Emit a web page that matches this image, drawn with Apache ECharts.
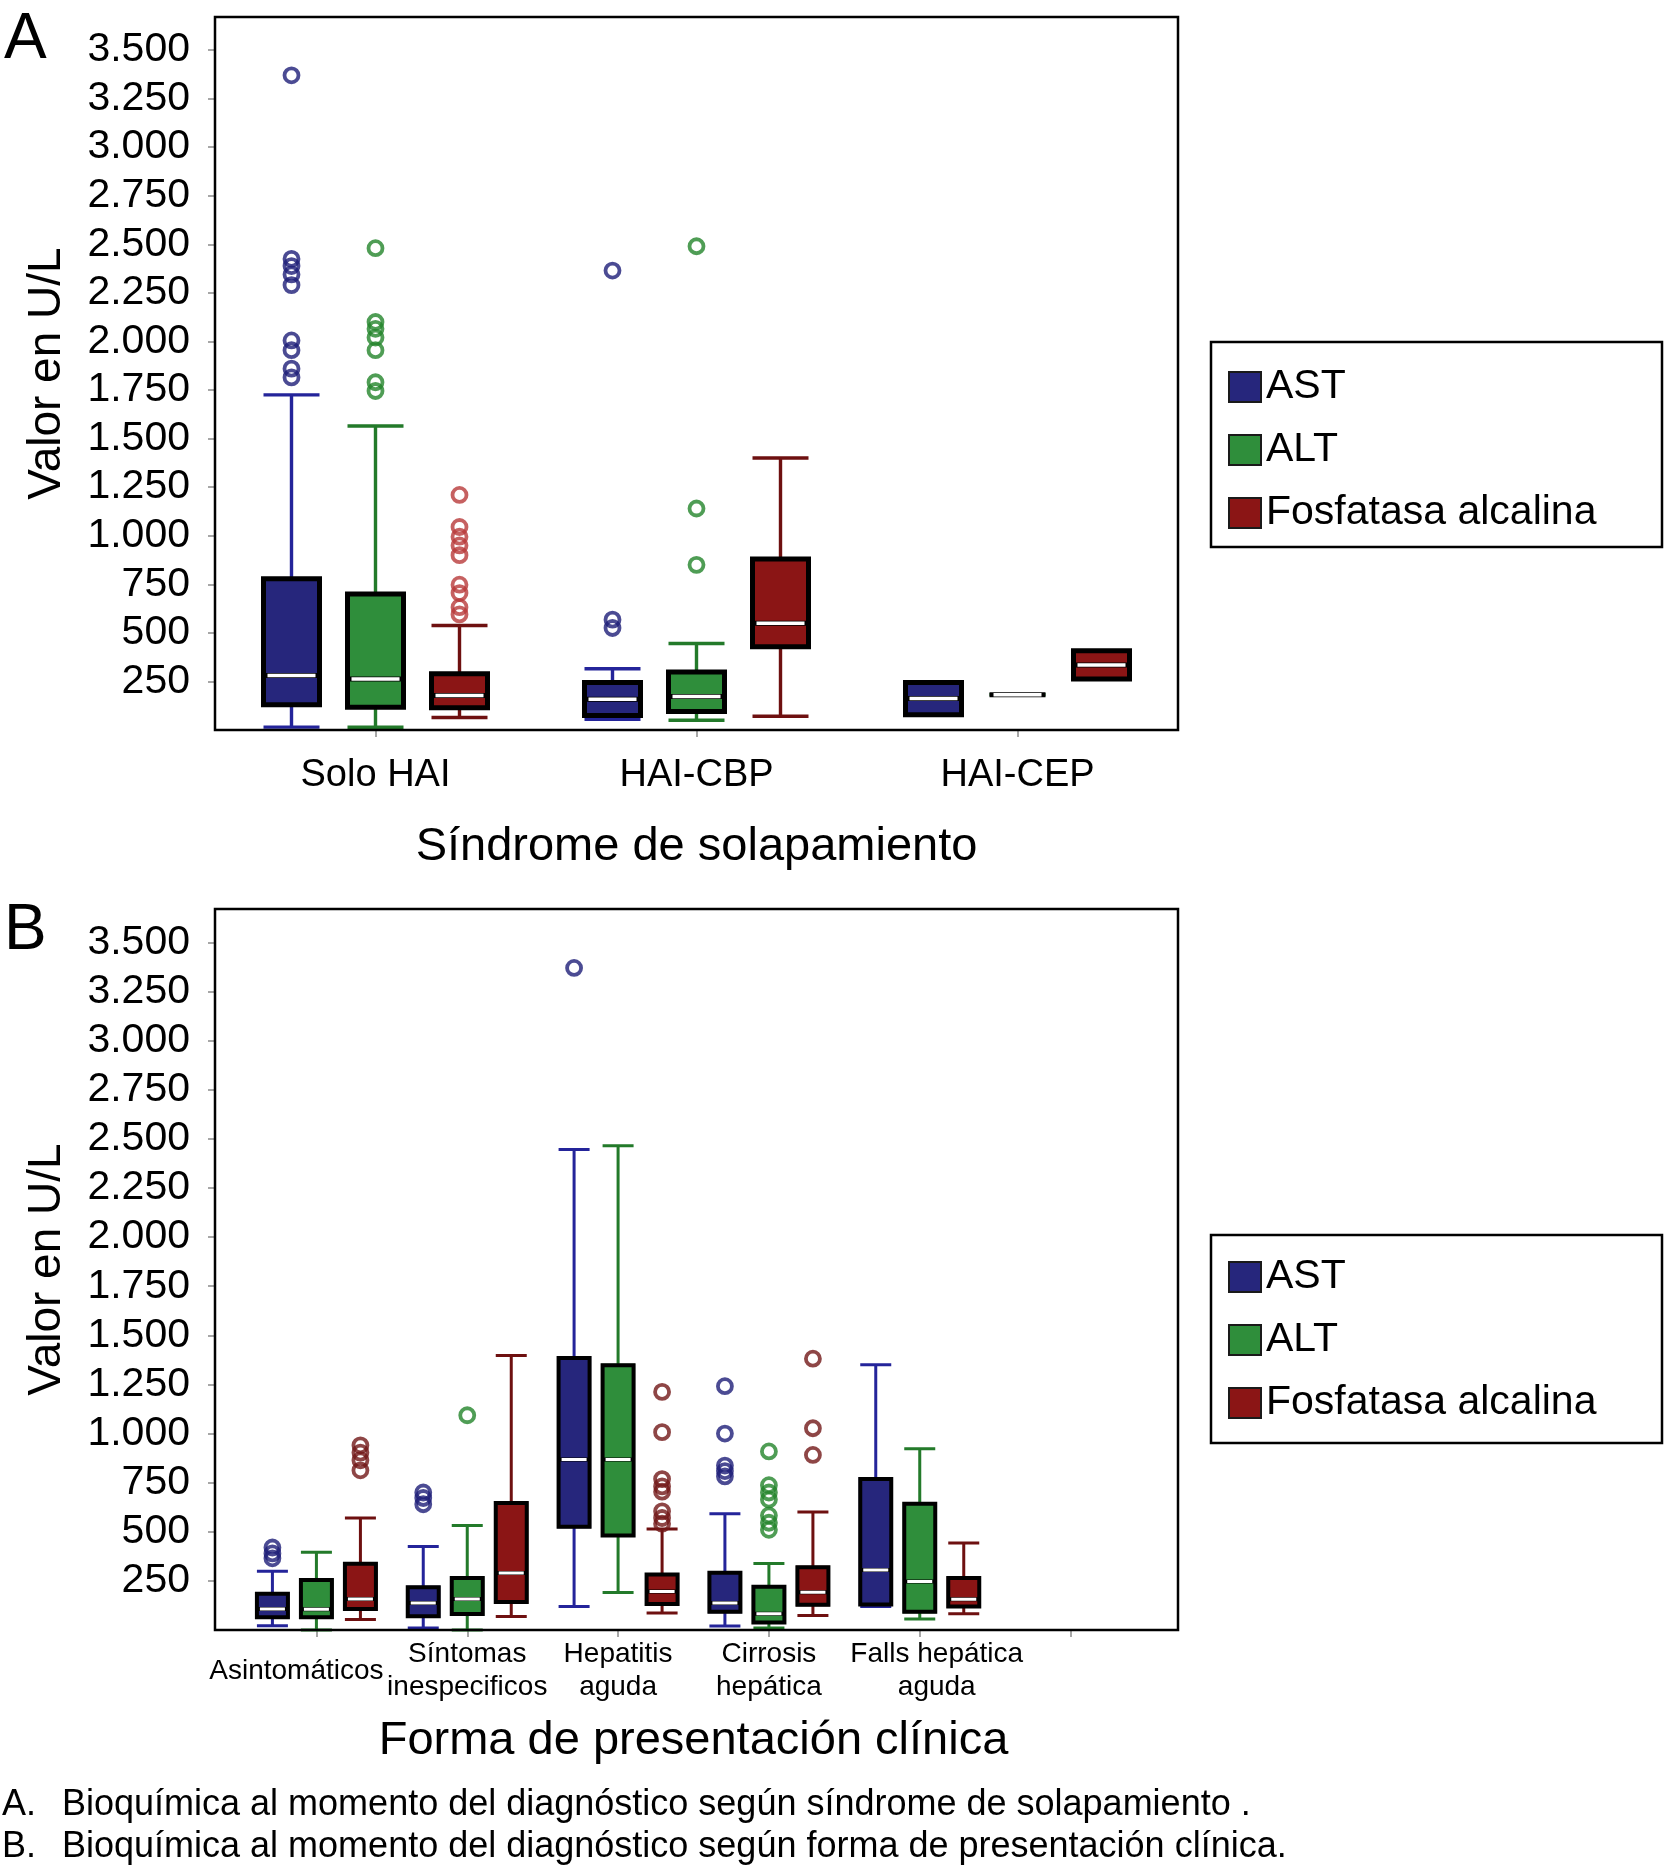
<!DOCTYPE html>
<html>
<head>
<meta charset="utf-8">
<script src="https://cdn.jsdelivr.net/npm/echarts@6/dist/echarts.min.js"></script>
<style>html,body{margin:0;padding:0;background:#fff}#c{width:1667px;height:1865px}</style>
</head>
<body>
<div id="c"></div>
<script>
// ---------------- DATA ----------------
const measures = ['AST', 'ALT', 'Fosfatasa alcalina'];
const yTicks = [250, 500, 750, 1000, 1250, 1500, 1750, 2000, 2250, 2500, 2750, 3000, 3250, 3500];

// Panel A: [min, Q1, median, Q3, max]
const categoriesA = ['Solo HAI', 'HAI-CBP', 'HAI-CEP'];
const astA = [[15, 130, 280, 778, 1725], [55, 75, 158, 245, 315], [78, 78, 162, 245, 245]];
const altA = [[14, 117, 262, 700, 1565], [50, 95, 172, 298, 445], [182, 182, 182, 182, 182]];
const faA  = [[64, 115, 178, 290, 538], [71, 428, 550, 880, 1400], [262, 262, 334, 408, 408]];
const outAstA = [[0, 3370], [0, 2425], [0, 2388], [0, 2345], [0, 2290], [0, 2005], [0, 1955], [0, 1860], [0, 1815],
                 [1, 2365], [1, 568], [1, 525]];
const outAltA = [[0, 2480], [0, 2100], [0, 2065], [0, 2020], [0, 1955], [0, 1790], [0, 1745],
                 [1, 2490], [1, 1140], [1, 850]];
const outFaA  = [[0, 1210], [0, 1045], [0, 995], [0, 950], [0, 900], [0, 748], [0, 705], [0, 632], [0, 595]];

// Panel B
const categoriesB = ['Asintomáticos', 'Síntomas\ninespecificos', 'Hepatitis\naguda', 'Cirrosis\nhepática', 'Falls hepática\naguda', ''];
const astB = [[22, 65, 107, 184, 299], [10, 70, 138, 218, 425], [120, 526, 868, 1385, 2446], [20, 93, 138, 292, 592], [120, 130, 305, 768, 1350]];
const altB = [[0, 65, 106, 255, 396], [0, 82, 158, 265, 532], [191, 481, 868, 1348, 2465], [10, 38, 83, 220, 338], [56, 93, 247, 642, 922]];
const faB  = [[53, 107, 158, 337, 570], [69, 142, 290, 646, 1397], [87, 132, 196, 283, 514], [74, 129, 192, 319, 601], [83, 120, 156, 265, 443]];
const outAstB = [[0, 420], [0, 390], [0, 365], [1, 700], [1, 672], [1, 640], [2, 3370],
                 [3, 1241], [3, 1000], [3, 837], [3, 809], [3, 782]];
const outAltB = [[1, 1093], [3, 909], [3, 737], [3, 700], [3, 664], [3, 583], [3, 546], [3, 510]];
const outFaB  = [[0, 940], [0, 903], [0, 864], [0, 813],
                 [2, 1212], [2, 1007], [2, 768], [2, 731], [2, 704], [2, 604], [2, 570], [2, 541],
                 [3, 1381], [3, 1027], [3, 891]];

// ---------------- STYLE ----------------
const FONT = '"Liberation Sans", Arial, Helvetica, sans-serif';
const YMAX = 3670;
const fills = ['#26267c', '#2f8e3b', '#8b1515'];
const whisk = ['#24249a', '#237a2a', '#6e1010'];
const fmt = v => v >= 1000 ? Math.floor(v / 1000) + '.' + String(v % 1000).padStart(3, '0') : String(v);

const panels = [
  { cats: categoriesA, boxes: [astA, altA, faA], outs: [outAstA, outAltA, outFaA],
    outColors: ['#1e1e78', '#23842a', '#b83a3a'],
    frame: { l: 215, t: 17, w: 963, h: 713 }, data: { l: 215, w: 963 }, shift: 84,
    boxW: 56, medW: 48, borderW: 5, whiskW: 3.4, medLW: 3.5, sym: 14,
    label: { fontSize: 38, margin: 27 },
    name: 'Síndrome de solapamiento', nameGap: 94, legendTop: 361 },
  { cats: categoriesB, boxes: [astB, altB, faB], outs: [outAstB, outAltB, outFaB],
    outColors: ['#1e1e78', '#23842a', '#721818'],
    frame: { l: 215, t: 909, w: 963, h: 721 }, data: { l: 241, w: 905 }, shift: 44,
    boxW: 31, medW: 25, borderW: 4, whiskW: 3, medLW: 3, sym: 14,
    label: { fontSize: 28, lineHeight: 33, margin: 41, verticalAlign: 'middle',
      formatter: v => v === 'Asintomáticos' ? '{l|' + v + '}' :
        (v.indexOf('Falls') === 0 ? v.split('\n').map(s => '{r|' + s + '}').join('\n') : v),
      rich: { l: { fontSize: 28, lineHeight: 33, fontFamily: FONT, color: '#000', padding: [0, 40, 0, 0] },
              r: { fontSize: 28, lineHeight: 33, fontFamily: FONT, color: '#000', padding: [0, 0, 0, 34] } } },
    name: 'Forma de presentación clínica', nameGap: 88, legendTop: 1251 }
];

const option = { animation: false, backgroundColor: '#fff', grid: [], xAxis: [], yAxis: [], series: [], legend: [], graphic: [] };

panels.forEach(p => {
  const fg = option.grid.length;
  option.grid.push({ left: p.frame.l, top: p.frame.t, width: p.frame.w, height: p.frame.h, show: true,
    borderColor: '#000', borderWidth: 2.5, backgroundColor: 'rgba(0,0,0,0)', outerBoundsMode: 'none', z: 10 });
  option.xAxis.push({ type: 'category', gridIndex: fg, data: p.cats, show: false });
  option.yAxis.push({ type: 'value', gridIndex: fg, min: 0, max: YMAX, interval: 250,
    axisLine: { show: false }, splitLine: { show: false },
    axisTick: { show: true, customValues: yTicks, length: 7, lineStyle: { color: '#8a8a8a', width: 1.5 } },
    axisLabel: { customValues: yTicks, formatter: fmt, fontSize: 41, fontFamily: FONT, color: '#000', margin: 25 },
    name: 'Valor en U/L', nameLocation: 'middle', nameGap: 145, nameMoveOverlap: false,
    nameTextStyle: { fontSize: 46, fontFamily: FONT, color: '#000' } });

  [0, 1, 2].forEach(m => {
    const gi = option.grid.length;
    option.grid.push({ left: p.data.l + (m - 1) * p.shift, top: p.frame.t, width: p.data.w, height: p.frame.h, outerBoundsMode: 'none' });
    const yi = option.yAxis.length;
    option.yAxis.push({ type: 'value', gridIndex: gi, min: 0, max: YMAX, show: false });
    const xi = option.xAxis.length;
    for (let k = 0; k < 3; k++) {
      const ax = { type: 'category', gridIndex: gi, data: p.cats, show: false };
      if (m === 1 && k === 0) {
        Object.assign(ax, { show: true, axisLine: { show: false },
          axisTick: { show: true, alignWithLabel: true, length: 7, lineStyle: { color: '#8a8a8a', width: 1.5 } },
          axisLabel: Object.assign({ interval: 0, color: '#000', fontFamily: FONT }, p.label),
          name: p.name, nameLocation: 'middle', nameGap: p.nameGap, nameMoveOverlap: false,
          nameTextStyle: { fontSize: 47, fontFamily: FONT, color: '#000' } });
      }
      option.xAxis.push(ax);
    }
    const boxes = p.boxes[m];
    option.series.push({ type: 'boxplot', name: measures[m] + ' whisker', xAxisIndex: xi, yAxisIndex: yi,
      data: boxes, boxWidth: [p.boxW, p.boxW], silent: true, emphasis: { disabled: true }, z: 2,
      itemStyle: { color: fills[m], borderColor: whisk[m], borderWidth: p.whiskW } });
    option.series.push({ type: 'boxplot', name: measures[m], xAxisIndex: xi + 1, yAxisIndex: yi,
      data: boxes.map(d => [d[1], d[1], d[2], d[3], d[3]]), boxWidth: [p.boxW, p.boxW], silent: true,
      emphasis: { disabled: true }, z: 3,
      itemStyle: { color: fills[m], borderColor: '#000', borderWidth: p.borderW } });
    option.series.push({ type: 'boxplot', name: measures[m] + ' median', xAxisIndex: xi + 2, yAxisIndex: yi,
      data: boxes.map(d => [d[2], d[2], d[2], d[2], d[2]]), boxWidth: [p.medW, p.medW], silent: true,
      emphasis: { disabled: true }, z: 4,
      itemStyle: { color: '#fff', borderColor: '#fff', borderWidth: p.medLW } });
    option.series.push({ type: 'scatter', name: measures[m] + ' outliers', xAxisIndex: xi, yAxisIndex: yi,
      data: p.outs[m], symbol: 'circle', symbolSize: p.sym, silent: true, emphasis: { disabled: true }, z: 5,
      itemStyle: { color: 'rgba(255,255,255,0)', borderColor: p.outColors[m], borderWidth: 3.8 } });
  });

  option.legend.push({ left: 1223, top: p.legendTop, orient: 'vertical', icon: 'rect', itemWidth: 32, itemHeight: 30,
    itemGap: 21, selectedMode: false,
    textStyle: { fontSize: 41, fontFamily: FONT, color: '#000', lineHeight: 42 },
    data: measures.map((n, i) => ({ name: n, itemStyle: { color: fills[i], borderColor: '#1a1a1a', borderWidth: 2 } })) });
});

const txt = (t, x, y, size) => ({ type: 'text', x: x, y: y, silent: true,
  style: { text: t, fontSize: size, fontFamily: FONT, fill: '#000', verticalAlign: 'middle', align: 'left' } });
option.graphic = [
  { type: 'rect', shape: { x: 1211, y: 342, width: 451, height: 205 }, style: { fill: 'none', stroke: '#000', lineWidth: 2.5 }, silent: true },
  { type: 'rect', shape: { x: 1211, y: 1235, width: 451, height: 208 }, style: { fill: 'none', stroke: '#000', lineWidth: 2.5 }, silent: true },
  txt('A', 4, 40, 64),
  txt('B', 4, 931, 64),
  txt('A.', 2, 1805, 36),
  txt('Bioquímica al momento del diagnóstico según síndrome de solapamiento .', 62, 1805, 36),
  txt('B.', 2, 1847, 36),
  txt('Bioquímica al momento del diagnóstico según forma de presentación clínica.', 62, 1847, 36)
];

const chart = echarts.init(document.getElementById('c'), null, { renderer: 'canvas' });
chart.setOption(option);
</script>
</body>
</html>
